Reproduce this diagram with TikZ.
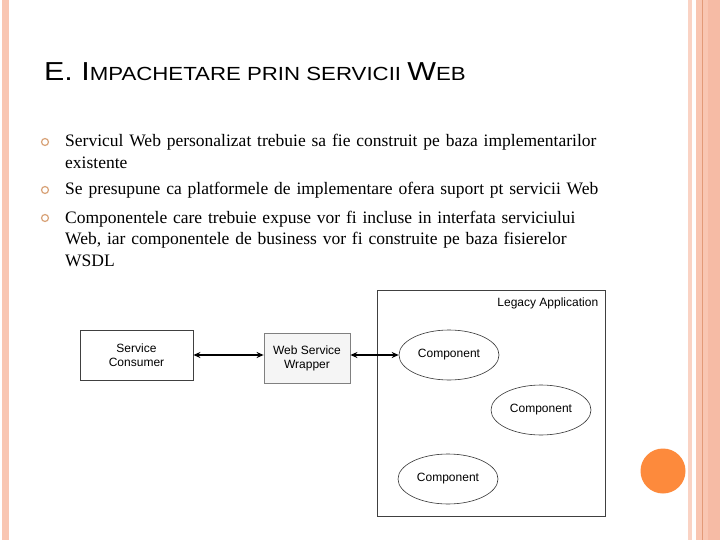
\documentclass[tikz,border=0pt]{standalone}
\usepackage{fontspec}
\setmainfont{Liberation Serif}
\setsansfont{Liberation Sans}
\usetikzlibrary{arrows.meta, positioning, shapes.geometric, calc}

\definecolor{stripe}{HTML}{F9C6B2}
\definecolor{stripelight}{HTML}{FAD3C4}
\definecolor{stripedark}{HTML}{F6BBA5}
\definecolor{stripeline}{HTML}{E39A78}
\definecolor{dotorange}{HTML}{FD8A3C}
\definecolor{bullettan}{HTML}{D9A47A}
\newcommand{\capbig}{\fontsize{26}{30}\selectfont}
\newcommand{\capsmall}{\fontsize{19}{22}\selectfont}

\begin{document}
\begin{tikzpicture}[
    x=1pt, y=-1pt,
    heading/.style={anchor=base west, inner sep=0pt, font=\sffamily},
    bulletmark/.style={circle, draw=bullettan, line width=1.2pt, minimum size=7pt, inner sep=0pt},
    item/.style={anchor=base west, inner sep=0pt, align=left, text width=580pt, font=\fontsize{17.5}{21.8}\selectfont},
    block/.style={rectangle, draw=black!75, line width=0.8pt, align=center, font=\sffamily\fontsize{12}{14}\selectfont},
    comp/.style={ellipse, draw=black!80, line width=0.6pt, minimum width=100pt, minimum height=50pt, font=\sffamily\fontsize{12}{14}\selectfont},
    arr/.style={{Stealth[length=7pt,width=6pt]}-{Stealth[length=7pt,width=6pt]}, draw=black, line width=1.2pt}
  ]
    \useasboundingbox (0,0) rectangle (720,540);
    \fill[white] (0,0) rectangle (720,540);
    \fill[stripe] (2,0) rectangle (9,540);
    \fill[stripelight] (688,0) rectangle (692,540);
    \fill[stripe] (696,0) rectangle (708,540);
    \fill[stripedark] (708,0) rectangle (720,540);
    \draw[stripeline, line width=0.8pt] (702,0) -- (702,540);
    \fill[dotorange] (663,471) circle (22.5);

    \node[heading] (title) at (44,81) {\scalebox{1.17}[1]{\capbig E. I\capsmall MPACHETARE PRIN SERVICII \capbig W\capsmall EB}};

    \node[bulletmark] (m1) at (45,142) {};
    \node[bulletmark] (m2) at (45,190) {};
    \node[bulletmark] (m3) at (45,218) {};
    \node[item] (b1) at (65,147) {Servicul Web personalizat trebuie sa fie construit pe baza implementarilor\\ existente};
    \node[item] (b2) at (65,195) {Se presupune ca platformele de implementare ofera suport pt servicii Web};
    \node[item] (b3) at (65,223) {Componentele care trebuie expuse vor fi incluse in interfata serviciului\\ Web, iar componentele de business vor fi construite pe baza fisierelor\\ WSDL};

    \node[block, minimum width=228pt, minimum height=226pt] (legacy) at (491,403) {};
    \node[anchor=north east, inner sep=0pt, font=\sffamily\fontsize{12}{14}\selectfont] (legacylabel) at ($(legacy.north east)+(-7,8)$) {Legacy Application};
    \node[block, fill=white, minimum width=113pt, minimum height=50pt] (consumer) at (136.5,355) {Service\\Consumer};
    \node[block, draw=black!50, fill=black!4, minimum width=86pt, minimum height=50pt] (wrapper) at (307,358) {Web Service\\Wrapper};
    \node[comp] (c1) at (449,355) {Component};
    \node[comp] (c2) at (541,410) {Component};
    \node[comp] (c3) at (448,479) {Component};

    \draw[arr] (consumer.east) -- (wrapper.west |- consumer.east);
    \draw[arr] (wrapper.east |- c1.west) -- (c1.west);
  \end{tikzpicture}
\end{document}
